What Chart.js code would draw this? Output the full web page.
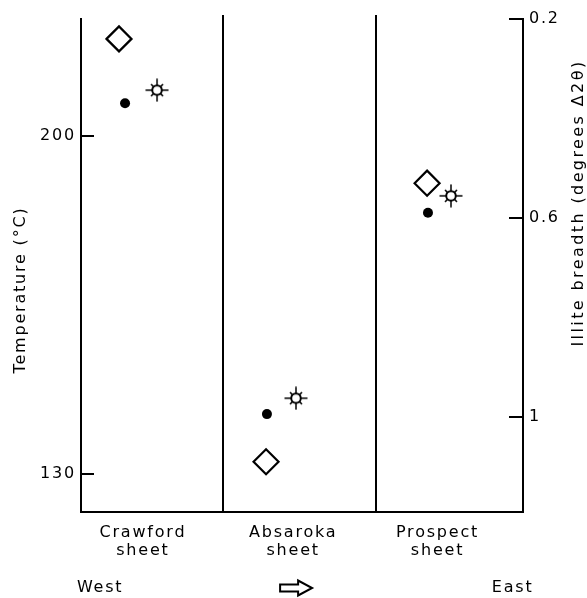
<!DOCTYPE html>
<html>
<head>
<meta charset="utf-8">
<script src="https://cdn.jsdelivr.net/npm/chart.js@4/dist/chart.umd.min.js"></script>
<style>
  html, body { margin: 0; padding: 0; background: #fff; }
  #wrap { width: 587px; height: 598px; }
</style>
</head>
<body>
<div id="wrap"><canvas id="chart" width="587" height="598"></canvas></div>
<script>
// Crawford / Absaroka / Prospect thrust sheets, west to east

const sheets = ['Crawford', 'Absaroka', 'Prospect'];
const sheetLabelPos = [0.42, 1.44, 2.42];
const dividerPos = [0.964, 2.002];

// illite breadth (degrees delta 2 theta), right axis
const illiteX = [0.258, 1.256, 2.349];
const illiteBreadth = [0.24, 1.09, 0.53];

// temperature estimates (°C), left axis
const dotX = [0.299, 1.262, 2.355];
const dotTemp = [206.8, 142.4, 184.1];
const starX = [0.516, 1.459, 2.511];
const starTemp = [209.5, 145.7, 187.6];

const tempTicks = [130, 200];
const illiteTicks = [0.2, 0.6, 1];
const compass = [
  { pos: 0.13, text: 'West' },
  { pos: 1.46, text: 'arrow' },
  { pos: 2.93, text: 'East' },
];

const FONT = '"DejaVu Sans", sans-serif';

function zip(xs, ys) {
  return xs.map((x, i) => ({ x, y: ys[i] }));
}

// open circle with rays
function makeStar() {
  const c = document.createElement('canvas');
  c.width = 24;
  c.height = 24;
  const g = c.getContext('2d');
  g.strokeStyle = '#000';
  g.lineWidth = 2;
  g.beginPath();
  g.arc(12, 12, 4.8, 0, Math.PI * 2);
  g.stroke();
  g.lineWidth = 1.5;
  for (let k = 0; k < 8; k++) {
    const a = (k * Math.PI) / 4;
    const len = k % 2 === 0 ? 11.5 : 8.5;
    g.beginPath();
    g.moveTo(12 + Math.cos(a) * 4.8, 12 + Math.sin(a) * 4.8);
    g.lineTo(12 + Math.cos(a) * len, 12 + Math.sin(a) * len);
    g.stroke();
  }
  return c;
}

const decorations = {
  id: 'decorations',
  beforeDraw(chart) {
    chart.ctx.letterSpacing = '1.8px';
  },
  beforeDatasetsDraw(chart) {
    const { ctx, chartArea, scales } = chart;
    ctx.save();
    ctx.strokeStyle = '#000';
    ctx.lineWidth = 2;

    // sheet dividers
    dividerPos.forEach((v) => {
      const px = Math.round(scales.x.getPixelForValue(v));
      ctx.beginPath();
      ctx.moveTo(px, chartArea.top - 4);
      ctx.lineTo(px, chartArea.bottom);
      ctx.stroke();
    });

    // inward tick marks
    tempTicks.forEach((v) => {
      const py = Math.round(scales.yT.getPixelForValue(v));
      ctx.beginPath();
      ctx.moveTo(chartArea.left, py);
      ctx.lineTo(chartArea.left + 13, py);
      ctx.stroke();
    });
    illiteTicks.forEach((v) => {
      const py = Math.round(scales.yI.getPixelForValue(v));
      ctx.beginPath();
      ctx.moveTo(chartArea.right, py);
      ctx.lineTo(chartArea.right - 14, py);
      ctx.stroke();
    });

    // axis titles
    ctx.fillStyle = '#000';
    ctx.font = '16px ' + FONT;
    ctx.letterSpacing = '1.8px';
    ctx.textAlign = 'center';
    ctx.textBaseline = 'middle';
    ctx.save();
    ctx.translate(21, 290);
    ctx.rotate(-Math.PI / 2);
    ctx.fillText('Temperature (°C)', 0, 0);
    ctx.restore();
    ctx.save();
    ctx.translate(579, 203);
    ctx.rotate(-Math.PI / 2);
    ctx.letterSpacing = '2.4px';
    ctx.fillText('Illite breadth (degrees Δ2θ)', 0, 0);
    ctx.restore();

    // west -> east
    const yRow = 588;
    compass.forEach((c) => {
      const px = scales.x.getPixelForValue(c.pos);
      if (c.text === 'arrow') {
        ctx.lineWidth = 2;
        ctx.beginPath();
        ctx.moveTo(px - 16, yRow - 3.5);
        ctx.lineTo(px + 2, yRow - 3.5);
        ctx.lineTo(px + 2, yRow - 7.5);
        ctx.lineTo(px + 16, yRow);
        ctx.lineTo(px + 2, yRow + 7.5);
        ctx.lineTo(px + 2, yRow + 3.5);
        ctx.lineTo(px - 16, yRow + 3.5);
        ctx.closePath();
        ctx.stroke();
      } else {
        ctx.fillText(c.text, px, yRow);
      }
    });
    ctx.restore();
  },
};

new Chart(document.getElementById('chart').getContext('2d'), {
  type: 'scatter',
  data: {
    datasets: [
      {
        label: 'Illite breadth',
        data: zip(illiteX, illiteBreadth),
        yAxisID: 'yI',
        pointStyle: 'rectRot',
        pointRadius: 12.5,
        borderColor: '#000',
        backgroundColor: '#fff',
        borderWidth: 2.2,
      },
      {
        label: 'Temperature',
        data: zip(dotX, dotTemp),
        yAxisID: 'yT',
        pointStyle: 'circle',
        pointRadius: 5,
        borderColor: '#000',
        backgroundColor: '#000',
        borderWidth: 0,
      },
      {
        label: 'Temperature (second estimate)',
        data: zip(starX, starTemp),
        yAxisID: 'yT',
        pointStyle: makeStar(),
        pointRadius: 12,
      },
    ],
  },
  options: {
    responsive: false,
    animation: false,
    layout: { padding: { top: 19, left: 0, right: 0, bottom: 0 } },
    plugins: {
      legend: { display: false },
      tooltip: { enabled: false },
    },
    scales: {
      x: {
        type: 'linear',
        min: 0,
        max: 3,
        afterBuildTicks: (scale) => {
          scale.ticks = sheetLabelPos.map((v) => ({ value: v }));
        },
        afterFit: (scale) => {
          scale.height = 86;
        },
        ticks: {
          autoSkip: false,
          maxRotation: 0,
          padding: 12,
          color: '#000',
          font: { family: FONT, size: 16, lineHeight: 1.1 },
          callback: (value, index) => [sheets[index], 'sheet'],
        },
        grid: { display: false, drawTicks: false },
        border: { display: true, color: '#000', width: 2 },
      },
      yT: {
        type: 'linear',
        position: 'left',
        min: 122.13,
        max: 224.23,
        afterBuildTicks: (scale) => {
          scale.ticks = tempTicks.map((v) => ({ value: v }));
        },
        afterFit: (scale) => {
          scale.width = 81;
        },
        ticks: {
          padding: 5,
          color: '#000',
          font: { family: FONT, size: 16 },
          callback: (value) => String(value),
        },
        grid: { display: false, drawTicks: false },
        border: { display: true, color: '#000', width: 2 },
      },
      yI: {
        type: 'linear',
        position: 'right',
        reverse: true,
        min: 0.2,
        max: 1.191,
        afterBuildTicks: (scale) => {
          scale.ticks = illiteTicks.map((v) => ({ value: v }));
        },
        afterFit: (scale) => {
          scale.width = 64;
        },
        ticks: {
          padding: 6,
          color: '#000',
          font: { family: FONT, size: 16 },
          callback: (value) => String(value),
        },
        grid: { display: false, drawTicks: false },
        border: { display: true, color: '#000', width: 2 },
      },
    },
  },
  plugins: [decorations],
});
</script>
</body>
</html>
